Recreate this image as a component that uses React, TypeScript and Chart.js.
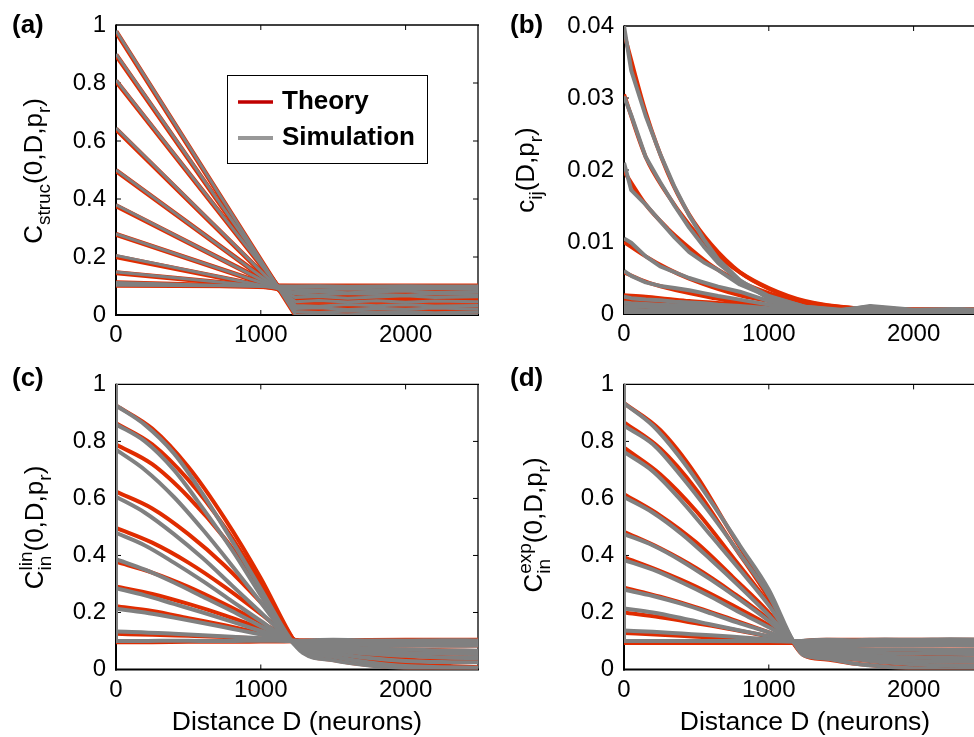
import React, { useEffect, useRef } from 'react';
import { Chart, registerables } from 'chart.js';

Chart.register(...registerables);

const FAMILY = '"Liberation Sans", Arial, Helvetica, sans-serif';
Chart.defaults.font.family = FAMILY;
Chart.defaults.color = '#000';

const THEORY_RED = 'rgb(224,44,0)';
const SIM_GRAY = 'rgb(128,128,128)';
const LEGEND_RED = 'rgb(192,0,0)';
const LEGEND_GRAY = 'rgb(152,152,152)';

// Shared axis ticks
const X_TICKS = [0, 1000, 2000];
const Y_TICKS_UNIT = [0, 0.2, 0.4, 0.6, 0.8, 1];
const Y_TICKS_B = [0, 0.01, 0.02, 0.03, 0.04];
const X_MAX = 2500;
const LEGEND_LABELS = ['Theory', 'Simulation'];
const X_LABEL = 'Distance D (neurons)';

// (a) structural correlation, one row per rewiring probability
const A_THEORY_D = [0, 1240, 2500];
const A_THEORY = [
  [0.977, 0.0, 0.0],
  [0.897, 0.01, 0.01],
  [0.807, 0.021, 0.021],
  [0.641, 0.032, 0.032],
  [0.498, 0.047, 0.047],
  [0.377, 0.062, 0.062],
  [0.278, 0.072, 0.072],
  [0.201, 0.078, 0.078],
  [0.146, 0.088, 0.088],
  [0.111, 0.095, 0.095],
  [0.103, 0.1, 0.1],
];
const A_SIM_D = [0, 1240, 1400, 1600, 1800, 2000, 2200, 2500];
const A_SIM = [
  [0.98, 0.0, 0.003, 0.001, 0.004, 0.002, 0.003, 0.001],
  [0.9, 0.012, 0.009, 0.014, 0.01, 0.012, 0.008, 0.011],
  [0.81, 0.022, 0.025, 0.019, 0.023, 0.02, 0.024, 0.021],
  [0.645, 0.033, 0.03, 0.036, 0.032, 0.035, 0.031, 0.033],
  [0.5, 0.046, 0.05, 0.045, 0.049, 0.044, 0.048, 0.046],
  [0.38, 0.06, 0.064, 0.058, 0.062, 0.066, 0.06, 0.063],
  [0.28, 0.072, 0.069, 0.074, 0.071, 0.068, 0.073, 0.07],
  [0.205, 0.078, 0.081, 0.077, 0.08, 0.083, 0.078, 0.08],
  [0.148, 0.088, 0.086, 0.09, 0.087, 0.089, 0.091, 0.088],
  [0.112, 0.095, 0.097, 0.094, 0.096, 0.098, 0.095, 0.097],
  [0.103, 0.1, 0.101, 0.099, 0.1, 0.101, 0.1, 0.1],
];

// (b) pairwise correlation c_ij
const B_THEORY_D = [0, 150, 300, 450, 600, 800, 1000, 1250, 1600, 2000, 2500];
const B_THEORY = [
  [0.039, 0.028, 0.0197, 0.0138, 0.0097, 0.0058, 0.0035, 0.0017, 0.0008, 0.0006, 0.0006],
  [0.0305, 0.0218, 0.0166, 0.0124, 0.009, 0.0058, 0.0036, 0.0018, 0.0008, 0.0006, 0.0006],
  [0.0198, 0.0152, 0.0119, 0.0092, 0.0068, 0.0045, 0.0029, 0.0015, 0.0008, 0.0006, 0.0006],
  [0.01, 0.008, 0.0063, 0.0049, 0.0038, 0.0026, 0.0018, 0.0011, 0.0007, 0.0006, 0.0006],
  [0.0058, 0.0045, 0.0036, 0.0029, 0.0023, 0.0016, 0.0012, 0.0008, 0.0006, 0.0006, 0.0006],
  [0.0026, 0.0024, 0.0021, 0.0018, 0.0016, 0.0013, 0.001, 0.0008, 0.0006, 0.0006, 0.0006],
  [0.0019, 0.0017, 0.0016, 0.0014, 0.0012, 0.001, 0.0008, 0.0007, 0.0006, 0.0006, 0.0006],
  [0.0012, 0.0011, 0.001, 0.0009, 0.0008, 0.0007, 0.0006, 0.0006, 0.0005, 0.0005, 0.0005],
  [0.0007, 0.0007, 0.0006, 0.0006, 0.0005, 0.0005, 0.0005, 0.0005, 0.0005, 0.0005, 0.0005],
  [0.0003, 0.0003, 0.0003, 0.0003, 0.0003, 0.0003, 0.0003, 0.0003, 0.0003, 0.0003, 0.0003],
];
const B_SIM_D = [0, 50, 150, 250, 350, 450, 550, 650, 800, 1000, 1250, 1500, 1700, 2000, 2300, 2500];
const B_SIM = [
  [0.04, 0.0338, 0.0275, 0.0222, 0.0176, 0.0137, 0.0104, 0.0076, 0.0047, 0.0021, 0.0008, 0.0005, 0.0011, 0.0006, 0.0007, 0.0006],
  [0.0302, 0.0276, 0.0218, 0.0183, 0.015, 0.012, 0.0094, 0.0071, 0.0046, 0.0025, 0.001, 0.0005, 0.0009, 0.0005, 0.0006, 0.0005],
  [0.021, 0.0172, 0.0152, 0.0129, 0.0106, 0.0086, 0.0072, 0.0061, 0.0041, 0.0024, 0.001, 0.0006, 0.001, 0.0005, 0.0006, 0.0005],
  [0.0105, 0.0099, 0.008, 0.0066, 0.0058, 0.005, 0.0044, 0.0038, 0.0031, 0.0018, 0.0008, 0.0005, 0.001, 0.0005, 0.0006, 0.0005],
  [0.006, 0.0053, 0.0044, 0.0039, 0.0036, 0.0033, 0.0029, 0.0025, 0.002, 0.0013, 0.0007, 0.0004, 0.0008, 0.0005, 0.0005, 0.0004],
  [0.0024, 0.0022, 0.002, 0.0019, 0.0017, 0.0016, 0.0015, 0.0013, 0.0011, 0.0008, 0.0005, 0.0004, 0.0007, 0.0004, 0.0005, 0.0004],
  [0.0016, 0.0015, 0.0014, 0.0013, 0.0012, 0.0012, 0.0011, 0.001, 0.0008, 0.0006, 0.0004, 0.0003, 0.0006, 0.0004, 0.0004, 0.0003],
  [0.0011, 0.001, 0.001, 0.0009, 0.0008, 0.0008, 0.0007, 0.0007, 0.0006, 0.0005, 0.0003, 0.0003, 0.0005, 0.0003, 0.0004, 0.0003],
  [0.0006, 0.0006, 0.0005, 0.0005, 0.0005, 0.0004, 0.0004, 0.0004, 0.0004, 0.0003, 0.0002, 0.0002, 0.0004, 0.0002, 0.0003, 0.0002],
  [0.0002, 0.0002, 0.0002, 0.0002, 0.0002, 0.0001, 0.0001, 0.0001, 0.0001, 0.0001, 0.0001, 0.0001, 0.0003, 0.0001, 0.0002, 0.0001],
];

// (c) linear input correlation
const C_THEORY_D = [0, 250, 500, 750, 1000, 1225, 1290, 1500, 2000, 2500];
const C_THEORY = [
  [0.926, 0.845, 0.71, 0.53, 0.32, 0.105, 0.062, 0.033, 0.006, 0.002],
  [0.864, 0.79, 0.665, 0.5, 0.3, 0.105, 0.068, 0.045, 0.02, 0.008],
  [0.789, 0.72, 0.605, 0.46, 0.28, 0.105, 0.074, 0.055, 0.035, 0.027],
  [0.624, 0.565, 0.475, 0.365, 0.235, 0.105, 0.08, 0.063, 0.048, 0.04],
  [0.497, 0.445, 0.375, 0.29, 0.195, 0.105, 0.085, 0.07, 0.06, 0.055],
  [0.378, 0.34, 0.29, 0.23, 0.165, 0.105, 0.09, 0.078, 0.07, 0.065],
  [0.291, 0.265, 0.23, 0.19, 0.145, 0.105, 0.095, 0.088, 0.085, 0.084],
  [0.222, 0.205, 0.18, 0.155, 0.128, 0.105, 0.098, 0.094, 0.091, 0.09],
  [0.125, 0.122, 0.118, 0.114, 0.109, 0.104, 0.103, 0.103, 0.104, 0.104],
  [0.096, 0.096, 0.097, 0.097, 0.098, 0.099, 0.1, 0.1, 0.1, 0.1],
];
// simulated curves start with the self-correlation value 1 at D = 0
const C_SIM_D = [0, 0, 200, 400, 600, 800, 1000, 1200, 1290, 1500, 1750, 2000, 2250, 2500];
const C_SIM = [
  [1, 0.926, 0.858, 0.758, 0.615, 0.452, 0.282, 0.11, 0.058, 0.032, 0.014, 0.005, 0.002, 0.001],
  [1, 0.86, 0.8, 0.7, 0.565, 0.42, 0.26, 0.105, 0.065, 0.045, 0.025, 0.012, 0.008, 0.006],
  [1, 0.771, 0.7, 0.605, 0.49, 0.365, 0.235, 0.105, 0.072, 0.056, 0.04, 0.03, 0.026, 0.025],
  [1, 0.606, 0.55, 0.475, 0.39, 0.295, 0.2, 0.105, 0.078, 0.066, 0.055, 0.048, 0.042, 0.04],
  [1, 0.479, 0.435, 0.375, 0.31, 0.24, 0.17, 0.103, 0.082, 0.072, 0.064, 0.058, 0.056, 0.054],
  [1, 0.387, 0.35, 0.305, 0.255, 0.205, 0.152, 0.103, 0.088, 0.08, 0.074, 0.07, 0.067, 0.066],
  [1, 0.285, 0.26, 0.23, 0.2, 0.168, 0.135, 0.102, 0.094, 0.088, 0.086, 0.084, 0.083, 0.084],
  [1, 0.213, 0.2, 0.182, 0.163, 0.143, 0.123, 0.102, 0.097, 0.094, 0.092, 0.091, 0.09, 0.091],
  [1, 0.133, 0.13, 0.125, 0.12, 0.115, 0.11, 0.103, 0.1, 0.101, 0.1, 0.101, 0.1, 0.1],
  [1, 0.1, 0.1, 0.101, 0.1, 0.1, 0.101, 0.1, 0.101, 0.104, 0.102, 0.101, 0.103, 0.102],
];

// (d) exponential input correlation
const D_THEORY_D = [0, 250, 500, 750, 1000, 1168, 1240, 1400, 1600, 1900, 2200, 2500];
const D_THEORY = [
  [0.934, 0.84, 0.68, 0.47, 0.265, 0.095, 0.05, 0.035, 0.02, 0.007, 0.002, 0.001],
  [0.867, 0.775, 0.63, 0.44, 0.25, 0.095, 0.055, 0.045, 0.035, 0.02, 0.014, 0.012],
  [0.778, 0.685, 0.555, 0.395, 0.23, 0.095, 0.062, 0.052, 0.042, 0.032, 0.028, 0.027],
  [0.615, 0.54, 0.445, 0.325, 0.2, 0.095, 0.07, 0.06, 0.05, 0.043, 0.04, 0.039],
  [0.483, 0.425, 0.355, 0.27, 0.175, 0.095, 0.078, 0.068, 0.06, 0.056, 0.054, 0.054],
  [0.393, 0.345, 0.29, 0.225, 0.155, 0.095, 0.082, 0.075, 0.07, 0.068, 0.068, 0.068],
  [0.287, 0.255, 0.218, 0.175, 0.13, 0.095, 0.088, 0.085, 0.084, 0.084, 0.084, 0.084],
  [0.2, 0.183, 0.162, 0.14, 0.115, 0.095, 0.092, 0.091, 0.091, 0.091, 0.091, 0.091],
  [0.128, 0.122, 0.115, 0.108, 0.1, 0.095, 0.1, 0.1, 0.1, 0.1, 0.1, 0.1],
  [0.093, 0.093, 0.093, 0.093, 0.093, 0.093, 0.1, 0.104, 0.104, 0.104, 0.104, 0.104],
];
const D_SIM_D = [0, 0, 200, 400, 600, 800, 1000, 1168, 1240, 1400, 1600, 1800, 2000, 2250, 2500];
const D_SIM = [
  [1, 0.934, 0.855, 0.735, 0.59, 0.435, 0.28, 0.1, 0.05, 0.038, 0.02, 0.01, 0.004, 0.001, 0.0],
  [1, 0.855, 0.79, 0.675, 0.545, 0.405, 0.26, 0.1, 0.056, 0.045, 0.036, 0.025, 0.018, 0.013, 0.012],
  [1, 0.763, 0.695, 0.59, 0.47, 0.35, 0.225, 0.1, 0.063, 0.053, 0.043, 0.035, 0.03, 0.027, 0.027],
  [1, 0.605, 0.55, 0.475, 0.385, 0.29, 0.19, 0.1, 0.071, 0.061, 0.052, 0.046, 0.042, 0.04, 0.039],
  [1, 0.475, 0.435, 0.38, 0.315, 0.245, 0.17, 0.1, 0.079, 0.069, 0.062, 0.058, 0.056, 0.055, 0.054],
  [1, 0.384, 0.35, 0.305, 0.255, 0.2, 0.148, 0.1, 0.083, 0.076, 0.072, 0.07, 0.069, 0.068, 0.068],
  [1, 0.28, 0.258, 0.23, 0.197, 0.162, 0.13, 0.1, 0.089, 0.086, 0.085, 0.085, 0.084, 0.085, 0.084],
  [1, 0.214, 0.2, 0.18, 0.158, 0.137, 0.117, 0.1, 0.093, 0.092, 0.092, 0.091, 0.092, 0.091, 0.091],
  [1, 0.137, 0.132, 0.126, 0.12, 0.113, 0.106, 0.1, 0.1, 0.101, 0.1, 0.101, 0.1, 0.101, 0.1],
  [1, 0.1, 0.1, 0.1, 0.1, 0.1, 0.1, 0.098, 0.101, 0.104, 0.103, 0.105, 0.104, 0.106, 0.105],
];

type TitlePart = { text: string; shift?: 'sub' | 'sup' } | { sub: string; sup: string };

interface PanelSpec {
  left: number;
  top: number;
  width: number;
  height: number;
  area: { left: number; top: number; right: number; bottom: number };
  yMax: number;
  yTicks: number[];
  letter: string;
  letterPos: [number, number];
  yTitle: TitlePart[];
  yTitlePos: [number, number];
  xTitle?: string;
  legend?: boolean;
  datasets: any[];
}

function lineStyle(color: string, width: number, smooth: boolean) {
  return {
    showLine: true,
    borderColor: color,
    backgroundColor: color,
    borderWidth: width,
    pointRadius: 0,
    pointHoverRadius: 0,
    fill: false,
    tension: 0,
    cubicInterpolationMode: smooth ? 'monotone' : 'default',
    borderJoinStyle: 'round',
    borderCapStyle: 'butt',
  };
}

// One dataset per curve; a vertical jump at the first abscissa is kept as its
// own straight segment so the rest of the curve can use monotone smoothing.
function lines(xs: number[], rows: number[][], color: string, width: number, smooth: boolean) {
  const out: any[] = [];
  rows.forEach((row) => {
    const pts = row.map((y, i) => ({ x: xs[i], y }));
    if (smooth && xs.length > 1 && xs[0] === xs[1]) {
      out.push({ data: pts.slice(0, 2), ...lineStyle(color, width, false) });
      out.push({ data: pts.slice(1), ...lineStyle(color, width, true) });
    } else {
      out.push({ data: pts, ...lineStyle(color, width, smooth) });
    }
  });
  return out;
}

// simulation first so it is painted over the theory curves
const PANELS: PanelSpec[] = [
  {
    left: 0, top: 0, width: 487, height: 360,
    area: { left: 116, top: 25, right: 478, bottom: 315 },
    yMax: 1, yTicks: Y_TICKS_UNIT,
    letter: '(a)', letterPos: [12, 33],
    yTitle: [{ text: 'C' }, { text: 'struc', shift: 'sub' }, { text: '(0,D,p' }, { text: 'r', shift: 'sub' }, { text: ')' }],
    yTitlePos: [42, 171],
    legend: true,
    datasets: [
      ...lines(A_SIM_D, A_SIM, SIM_GRAY, 3, false),
      ...lines(A_THEORY_D, A_THEORY, THEORY_RED, 5, false),
    ],
  },
  {
    left: 487, top: 0, width: 510, height: 360,
    area: { left: 137, top: 26, right: 499, bottom: 314 },
    yMax: 0.04, yTicks: Y_TICKS_B,
    letter: '(b)', letterPos: [23, 33],
    yTitle: [{ text: 'c' }, { text: 'ij', shift: 'sub' }, { text: '(D,p' }, { text: 'r', shift: 'sub' }, { text: ')' }],
    yTitlePos: [47, 170],
    datasets: [
      ...lines(B_SIM_D, B_SIM, SIM_GRAY, 4, false),
      ...lines(B_THEORY_D, B_THEORY, THEORY_RED, 4, true),
    ],
  },
  {
    left: 0, top: 360, width: 487, height: 377,
    area: { left: 116, top: 21, right: 478, bottom: 309.5 },
    yMax: 1, yTicks: Y_TICKS_UNIT,
    letter: '(c)', letterPos: [12, 26],
    yTitle: [{ text: 'C' }, { sub: 'in', sup: 'lin' }, { text: '(0,D,p' }, { text: 'r', shift: 'sub' }, { text: ')' }],
    yTitlePos: [43, 167.5],
    xTitle: X_LABEL,
    datasets: [
      ...lines(C_SIM_D, C_SIM, SIM_GRAY, 4, true),
      ...lines(C_THEORY_D, C_THEORY, THEORY_RED, 4, true),
    ],
  },
  {
    left: 487, top: 360, width: 510, height: 377,
    area: { left: 137, top: 21, right: 499, bottom: 309.5 },
    yMax: 1, yTicks: Y_TICKS_UNIT,
    letter: '(d)', letterPos: [23, 26],
    yTitle: [{ text: 'C' }, { sub: 'in', sup: 'exp' }, { text: '(0,D,p' }, { text: 'r', shift: 'sub' }, { text: ')' }],
    yTitlePos: [55, 165],
    xTitle: X_LABEL,
    datasets: [
      ...lines(D_SIM_D, D_SIM, SIM_GRAY, 4, true),
      ...lines(D_THEORY_D, D_THEORY, THEORY_RED, 4, true),
    ],
  },
];

const MAIN_FONT = `26px ${FAMILY}`;
const SMALL_FONT = `19px ${FAMILY}`;
const SUB_SHIFT = 8;
const SUP_SHIFT = -11;

function drawVerticalTitle(ctx: CanvasRenderingContext2D, parts: TitlePart[], baseX: number, centerY: number) {
  ctx.save();
  const widths = parts.map((p) => {
    if ('sub' in p) {
      ctx.font = SMALL_FONT;
      return Math.max(ctx.measureText(p.sub).width, ctx.measureText(p.sup).width);
    }
    ctx.font = p.shift ? SMALL_FONT : MAIN_FONT;
    return ctx.measureText(p.text).width;
  });
  const total = widths.reduce((s, w) => s + w, 0);
  ctx.translate(baseX, centerY);
  ctx.rotate(-Math.PI / 2);
  ctx.fillStyle = '#000';
  ctx.textBaseline = 'alphabetic';
  ctx.textAlign = 'left';
  let x = -total / 2;
  parts.forEach((p, i) => {
    if ('sub' in p) {
      ctx.font = SMALL_FONT;
      ctx.fillText(p.sub, x, SUB_SHIFT);
      ctx.fillText(p.sup, x, SUP_SHIFT);
    } else if (p.shift) {
      ctx.font = SMALL_FONT;
      ctx.fillText(p.text, x, p.shift === 'sub' ? SUB_SHIFT : SUP_SHIFT);
    } else {
      ctx.font = MAIN_FONT;
      ctx.fillText(p.text, x, 0);
    }
    x += widths[i];
  });
  ctx.restore();
}

function drawLegend(ctx: CanvasRenderingContext2D) {
  ctx.save();
  ctx.fillStyle = '#fff';
  ctx.fillRect(227, 75, 200, 88);
  ctx.strokeStyle = '#000';
  ctx.lineWidth = 1;
  ctx.strokeRect(227.5, 75.5, 200, 88);
  const rows: [string, string, number, number][] = [
    [LEGEND_LABELS[0], LEGEND_RED, 3.5, 102],
    [LEGEND_LABELS[1], LEGEND_GRAY, 4, 138],
  ];
  ctx.font = `bold 26px ${FAMILY}`;
  ctx.textBaseline = 'middle';
  ctx.textAlign = 'left';
  for (const [label, color, w, y] of rows) {
    ctx.strokeStyle = color;
    ctx.lineWidth = w;
    ctx.beginPath();
    ctx.moveTo(238, y);
    ctx.lineTo(273, y);
    ctx.stroke();
    ctx.fillStyle = '#000';
    ctx.fillText(label, 282, y);
  }
  ctx.restore();
}

const framePlugin = {
  id: 'matlabFrame',
  beforeDatasetsDraw(chart: any) {
    const { ctx, chartArea: a, scales } = chart;
    const seg = (x1: number, y1: number, x2: number, y2: number) => {
      ctx.beginPath();
      ctx.moveTo(x1, y1);
      ctx.lineTo(x2, y2);
      ctx.stroke();
    };
    ctx.save();
    ctx.strokeStyle = '#000';
    ctx.lineWidth = 1;
    const L = 5;
    for (const t of scales.x.ticks) {
      const px = scales.x.getPixelForValue(t.value);
      if (px <= a.left + 1 || px >= a.right - 1) continue;
      seg(px, a.bottom, px, a.bottom - L);
      seg(px, a.top, px, a.top + L);
    }
    for (const t of scales.y.ticks) {
      const py = scales.y.getPixelForValue(t.value);
      if (py <= a.top + 1 || py >= a.bottom - 1) continue;
      seg(a.left, py, a.left + L, py);
      seg(a.right, py, a.right - L, py);
    }
    ctx.lineWidth = 1.3;
    seg(a.left, a.top, a.right + 1, a.top);
    seg(a.right, a.top, a.right, a.bottom);
    ctx.lineWidth = 2;
    seg(a.left, a.top - 0.6, a.left, a.bottom + 1);
    seg(a.left - 1, a.bottom, a.right + 1, a.bottom);
    ctx.restore();
  },
};

function buildChart(canvas: HTMLCanvasElement, p: PanelSpec) {
  const annotate = {
    id: 'panelText',
    afterDraw(chart: any) {
      const ctx: CanvasRenderingContext2D = chart.ctx;
      ctx.save();
      ctx.font = `bold 26px ${FAMILY}`;
      ctx.fillStyle = '#000';
      ctx.textBaseline = 'alphabetic';
      ctx.textAlign = 'left';
      ctx.fillText(p.letter, p.letterPos[0], p.letterPos[1]);
      ctx.restore();
      drawVerticalTitle(ctx, p.yTitle, p.yTitlePos[0], p.yTitlePos[1]);
      if (p.legend) drawLegend(ctx);
    },
  };
  const fmt = (v: number | string) => String(Number(Number(v).toFixed(4)));
  return new Chart(canvas, {
    type: 'scatter',
    data: { datasets: p.datasets },
    options: {
      animation: false,
      responsive: false,
      maintainAspectRatio: false,
      devicePixelRatio: 1,
      events: [],
      layout: { padding: { top: p.area.top, right: p.width - p.area.right, bottom: 0, left: 0 } },
      plugins: { legend: { display: false }, tooltip: { enabled: false }, title: { display: false } },
      scales: {
        x: {
          type: 'linear',
          min: 0,
          max: X_MAX,
          grid: { display: false, drawTicks: false },
          border: { display: false },
          afterBuildTicks: (axis: any) => {
            axis.ticks = X_TICKS.map((value) => ({ value }));
          },
          afterFit: (axis: any) => {
            axis.height = p.height - p.area.bottom;
          },
          ticks: {
            font: { size: 24, family: FAMILY },
            color: '#000',
            padding: 6,
            maxRotation: 0,
            autoSkip: false,
            callback: (v: any) => fmt(v),
          },
          title: p.xTitle
            ? {
                display: true,
                text: p.xTitle,
                color: '#000',
                font: { size: 26.5, family: FAMILY, lineHeight: 1.1 },
                padding: { top: 0, bottom: 0 },
              }
            : { display: false },
        },
        y: {
          type: 'linear',
          min: 0,
          max: p.yMax,
          grid: { display: false, drawTicks: false },
          border: { display: false },
          afterBuildTicks: (axis: any) => {
            axis.ticks = p.yTicks.map((value) => ({ value }));
          },
          afterFit: (axis: any) => {
            axis.width = p.area.left;
          },
          ticks: {
            font: { size: 24, family: FAMILY },
            color: '#000',
            padding: 10,
            autoSkip: false,
            callback: (v: any) => fmt(v),
          },
        },
      },
    } as any,
    plugins: [framePlugin, annotate],
  });
}

export default function App() {
  const r0 = useRef<HTMLCanvasElement>(null);
  const r1 = useRef<HTMLCanvasElement>(null);
  const r2 = useRef<HTMLCanvasElement>(null);
  const r3 = useRef<HTMLCanvasElement>(null);
  const refs = [r0, r1, r2, r3];

  useEffect(() => {
    const charts = PANELS.map((p, i) => buildChart(refs[i].current as HTMLCanvasElement, p));
    return () => charts.forEach((c) => c.destroy());
  }, []);

  return (
    <div
      style={{
        position: 'fixed',
        left: 0,
        top: 0,
        width: 974,
        height: 737,
        overflow: 'hidden',
        background: '#fff',
      }}
    >
      {PANELS.map((p, i) => (
        <canvas
          key={i}
          ref={refs[i]}
          width={p.width}
          height={p.height}
          style={{ position: 'absolute', left: p.left, top: p.top, width: p.width, height: p.height }}
        />
      ))}
    </div>
  );
}
